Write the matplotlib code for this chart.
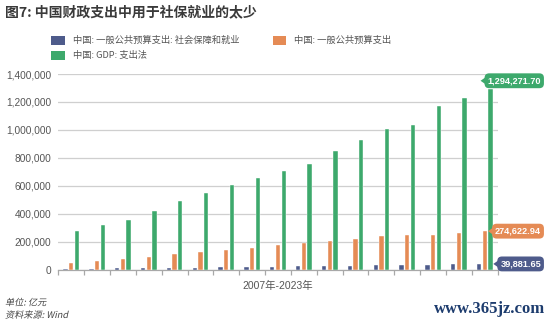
import matplotlib
matplotlib.use("Agg")
import matplotlib.pyplot as plt
from matplotlib.patches import Rectangle, Polygon, PathPatch
from matplotlib.textpath import TextPath
from matplotlib.font_manager import FontProperties
from matplotlib.transforms import Affine2D
from matplotlib.ticker import FuncFormatter, FixedLocator
import numpy as np

plt.rcParams['font.family'] = ['Liberation Sans', 'Noto Sans CJK SC', 'DejaVu Sans']

years = list(range(2007, 2024))
# 亿元
social_security = [5447, 6804, 7607, 9131, 11109, 12586, 14491, 15969, 19019,
                   21591, 24612, 27012, 29379, 32569, 33788, 36609, 39881.65]
public_budget = [49781, 62593, 76300, 89874, 109248, 125953, 140212, 151786,
                 175878, 187755, 203085, 220904, 238858, 245679, 245673,
                 260552, 274622.94]
gdp_expenditure = [277000, 321000, 355000, 419000, 493000, 545000, 603000,
                   655000, 706000, 757000, 847000, 929000, 1004000, 1038000,
                   1172000, 1231000, 1294271.70]

series_names = ["中国: 一般公共预算支出: 社会保障和就业",
                "中国: 一般公共预算支出",
                "中国: GDP: 支出法"]
colors = ["#4e5b8b", "#e58b55", "#3da96c"]
cjk = ['Noto Sans CJK SC', 'DejaVu Sans']

W, H = 550, 322
fig = plt.figure(figsize=(W / 100, H / 100), dpi=100)
ax = fig.add_axes([58.3 / W, 1 - 269.5 / H, 439.4 / W, 195.5 / H])

x = np.arange(len(years))
step = 0.22
bw = 0.165
for k, vals in enumerate([social_security, public_budget, gdp_expenditure]):
    ax.bar(x + (k - 1) * step, vals, width=bw, color=colors[k],
           edgecolor="white", linewidth=0.3, zorder=3)

ax.set_xlim(-0.5, len(years) - 0.5)
ax.set_ylim(0, 1400000)
ax.yaxis.set_major_locator(FixedLocator(np.arange(0, 1400001, 200000)))
ax.yaxis.set_major_formatter(FuncFormatter(lambda v, p: f"{int(v):,}"))
ax.grid(axis="y", color="#cfcfcf", linewidth=0.9, zorder=0)
ax.set_axisbelow(True)
for s in ["top", "right", "left"]:
    ax.spines[s].set_visible(False)
ax.spines["bottom"].set_color("#a8a8a8")
ax.spines["bottom"].set_linewidth(0.9)
ax.tick_params(axis="y", length=0, labelsize=7.3, labelcolor="#555555", pad=5)
ax.set_xticks(np.arange(-0.5, len(years), 1.0))
ax.set_xticklabels([])
ax.tick_params(axis="x", length=3.5, width=0.9, color="#a8a8a8", direction="out")
ax.set_xlabel("2007年-2023年", fontsize=7.5, color="#555555", labelpad=1.5)

# title
fig.text(5 / W, 1 - 12.5 / H, "图7: 中国财政支出中用于社保就业的太少",
         fontsize=10, fontweight="bold", color="#3a3a3a", va="center",
         family=cjk)

# legend
legend_pos = [(51, 40.5), (272.5, 40.5), (51, 55.5)]
for (lx, ly), name, c in zip(legend_pos, series_names, colors):
    fig.patches.append(Rectangle((lx / W, 1 - (ly + 4.2) / H), 13.5 / W, 8.4 / H,
                                 transform=fig.transFigure, facecolor=c,
                                 edgecolor="none"))
    fig.text((lx + 22) / W, 1 - ly / H, name, fontsize=6.7, color="#555555",
             va="center", family=cjk)


# slanted footnotes (CJK fonts have no italic face)
def slanted_text(s, x_px, y_px, size_pt, color):
    size_px = size_pt * fig.dpi / 72
    path = TextPath((0, 0), s, size=size_px, prop=FontProperties(family="Noto Sans CJK SC"))
    tr = Affine2D().skew_deg(12, 0).translate(x_px, H - y_px - size_px * 0.38)
    fig.artists.append(PathPatch(path, transform=tr, facecolor=color,
                                 edgecolor="none"))


slanted_text("单位: 亿元", 5, 302, 6.6, "#444444")
slanted_text("资料来源: Wind", 5, 314.5, 6.6, "#444444")

fig.text(545 / W, 1 - 309 / H, "www.365jz.com", fontsize=12, color="#1d3c6e",
         ha="right", va="center", fontweight="bold", family="Liberation Serif")

# value tags on the last year
tag_specs = [(gdp_expenditure[-1], colors[2], 8.0),
             (public_budget[-1], colors[1], 0.0),
             (social_security[-1], colors[0], 0.0)]
tags = []
for val, c, dy in tag_specs:
    t = ax.annotate(f"{val:,.2f}", xy=(541 / W, val),
                    xycoords=("figure fraction", "data"),
                    xytext=(0, dy * 0.72), textcoords="offset points",
                    ha="right", va="center", fontsize=6.6, fontweight="bold",
                    color="white", annotation_clip=False,
                    bbox=dict(boxstyle="round,pad=0.32,rounding_size=0.5",
                              facecolor=c, edgecolor="none"))
    tags.append((t, c))

fig.canvas.draw()
for t, c in tags:
    ext = t.get_bbox_patch().get_window_extent()
    yc = (ext.y0 + ext.y1) / 2
    tri = Polygon([[ext.x0 + 1, yc + 3.5], [ext.x0 + 1, yc - 3.5],
                   [ext.x0 - 4, yc]], closed=True, facecolor=c,
                  edgecolor="none", transform=None)
    fig.artists.append(tri)

fig.savefig("out.png", dpi=100)
